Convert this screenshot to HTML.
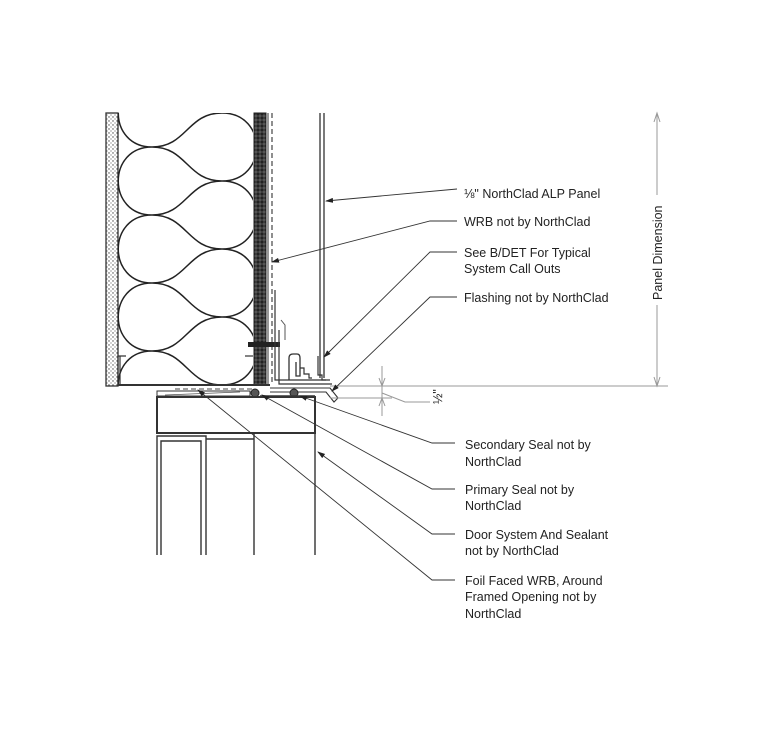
<!DOCTYPE html>
<html><head><meta charset="utf-8"><style>
html,body{margin:0;padding:0;background:#fff;}
svg{display:block;}
text{font-family:"Liberation Sans",Arial,sans-serif;font-size:12.5px;fill:#222;}
</style></head><body>
<svg width="768" height="734" viewBox="0 0 768 734" xmlns="http://www.w3.org/2000/svg">
<defs>
<pattern id="dots" width="4" height="4" patternUnits="userSpaceOnUse"><rect width="4" height="4" fill="#fff"/><circle cx="1" cy="1" r="0.7" fill="#444"/><circle cx="3" cy="3" r="0.6" fill="#666"/></pattern>
<pattern id="hatch" width="4" height="4" patternUnits="userSpaceOnUse"><rect width="4" height="4" fill="#555"/><path d="M0 2 L2 0 L4 2 L2 4Z" fill="#222"/></pattern>
<clipPath id="ins"><rect x="118" y="113" width="135" height="272"/></clipPath>
<marker id="ar" markerWidth="8" markerHeight="6" refX="7" refY="3" orient="auto" markerUnits="userSpaceOnUse"><path d="M0 0.5 L8 3 L0 5.5Z" fill="#222"/></marker>
</defs>

<rect x="106" y="113" width="12" height="273" fill="url(#dots)" stroke="#333" stroke-width="1.3"/>
<g clip-path="url(#ins)" fill="none" stroke="#222" stroke-width="1.5">
<path d="M152 79 C187 79 187 113 222 113 M152 147 C187 147 187 113 222 113 M152 147 C187 147 187 181 222 181 M152 215 C187 215 187 181 222 181 M152 215 C187 215 187 249 222 249 M152 283 C187 283 187 249 222 249 M152 283 C187 283 187 317 222 317 M152 351 C187 351 187 317 222 317 M152 351 C187 351 187 385 222 385 M152 419 C187 419 187 385 222 385"/>
<path d="M152 79 C107 79 107 147 152 147 C107 147 107 215 152 215 C107 215 107 283 152 283 C107 283 107 351 152 351 C107 351 107 419 152 419"/>
<path d="M222 45 C268 45 268 113 222 113 C268 113 268 181 222 181 C268 181 268 249 222 249 C268 249 268 317 222 317 C268 317 268 385 222 385"/>
</g>
<path d="M126 356 L118 356 L118 384 M120 356 L120 384" stroke="#333" fill="none" stroke-width="1.2"/>
<path d="M245 356 L253 356" stroke="#333" stroke-width="1.2"/>
<rect x="254" y="113" width="12" height="272" fill="url(#hatch)" stroke="#222" stroke-width="1"/>
<line x1="268" y1="113" x2="268" y2="385" stroke="#333" stroke-width="1"/>
<line x1="272" y1="113" x2="272" y2="384" stroke="#333" stroke-width="1.1" stroke-dasharray="5,3"/>
<rect x="248" y="342" width="32" height="5" fill="#222"/>
<path d="M275 290 L275 380 L330 380 M279 330 L279 384 L332 384" stroke="#333" fill="none" stroke-width="1.2"/>
<path d="M281 320 L285 325 L285 340" stroke="#555" fill="none" stroke-width="1"/>
<path d="M289 380 L289 358 Q289 354 293 354 L297 354 Q300 354 300 358 L300 376 L296 376 L296 362" stroke="#333" fill="none" stroke-width="1.3"/>
<path d="M300 368 L304 368 L304 374 L309 374 L309 378 L312 378" stroke="#333" fill="none" stroke-width="1.2"/>
<line x1="320" y1="113" x2="320" y2="378" stroke="#333" stroke-width="1.3"/>
<line x1="324" y1="113" x2="324" y2="378" stroke="#333" stroke-width="1.3"/>
<path d="M318 356 L318 375 L322 375 L322 380 L326 380" stroke="#333" fill="none" stroke-width="1.2"/>
<line x1="118" y1="385" x2="270" y2="385" stroke="#333" stroke-width="2"/>
<line x1="175" y1="389" x2="252" y2="389" stroke="#444" stroke-width="1" stroke-dasharray="5,3"/>
<path d="M270 388 L330 388 L338 398 L334 402 L326 392 L270 392" stroke="#333" fill="none" stroke-width="1.1"/>
<rect x="157" y="391" width="93" height="5" fill="none" stroke="#333" stroke-width="1"/>
<path d="M165 395 L240 392" stroke="#555" stroke-width="0.8"/>
<circle cx="255" cy="393" r="4" fill="#555" stroke="#222"/>
<circle cx="294" cy="393" r="4" fill="#555" stroke="#222"/>
<line x1="260" y1="396" x2="315" y2="396" stroke="#333" stroke-width="1.5"/>
<rect x="157" y="397" width="158" height="36" fill="#fff" stroke="#333" stroke-width="2"/>
<path d="M157 555 L157 436 L206 436 L206 555 M161 555 L161 441 L201 441 L201 555 M206 439 L254 439 L254 433 M254 439 L254 555 M315 433 L315 555" stroke="#333" fill="none" stroke-width="1.4"/>

<line x1="330" y1="386" x2="668" y2="386" stroke="#999" stroke-width="1"/>
<line x1="330" y1="398" x2="392" y2="398" stroke="#999" stroke-width="1"/>
<line x1="657" y1="113" x2="657" y2="195" stroke="#999" stroke-width="1"/>
<line x1="657" y1="305" x2="657" y2="386" stroke="#999" stroke-width="1"/>
<path d="M654 122 L657 113 L660 122 M654 377 L657 386 L660 377" stroke="#999" fill="none"/>
<text transform="translate(662,300) rotate(-90)">Panel Dimension</text>
<line x1="382" y1="366" x2="382" y2="416" stroke="#999"/>
<path d="M379 378 L382 386 L385 378 M379 406 L382 398 L385 406" stroke="#999" fill="none"/>
<path d="M382 393 L405 402 L430 402" stroke="#999" fill="none"/>
<text transform="translate(442,404) rotate(-90)" font-size="11">½"</text>

<g stroke="#333" stroke-width="0.9" fill="none">
<path d="M457 189 L326 201" marker-end="url(#ar)"/>
<path d="M457 221 L430 221 L272 262" marker-end="url(#ar)"/>
<path d="M457 252 L430 252 L324 357" marker-end="url(#ar)"/>
<path d="M457 297 L430 297 L332 391" marker-end="url(#ar)"/>
<path d="M455 443 L432 443 L300 396" marker-end="url(#ar)"/>
<path d="M455 489 L432 489 L262 395" marker-end="url(#ar)"/>
<path d="M455 534 L432 534 L318 452" marker-end="url(#ar)"/>
<path d="M455 580 L432 580 L198 390" marker-end="url(#ar)"/>
</g>

<text x="464" y="198">⅛" NorthClad ALP Panel</text>
<text x="464" y="226">WRB not by NorthClad</text>
<text x="464" y="257">See B/DET For Typical</text>
<text x="464" y="273">System Call Outs</text>
<text x="464" y="302">Flashing not by NorthClad</text>
<text x="465" y="449">Secondary Seal not by</text>
<text x="465" y="466">NorthClad</text>
<text x="465" y="494">Primary Seal not by</text>
<text x="465" y="510">NorthClad</text>
<text x="465" y="539">Door System And Sealant</text>
<text x="465" y="555">not by NorthClad</text>
<text x="465" y="585">Foil Faced WRB, Around</text>
<text x="465" y="601">Framed Opening not by</text>
<text x="465" y="618">NorthClad</text>
</svg>
</body></html>
